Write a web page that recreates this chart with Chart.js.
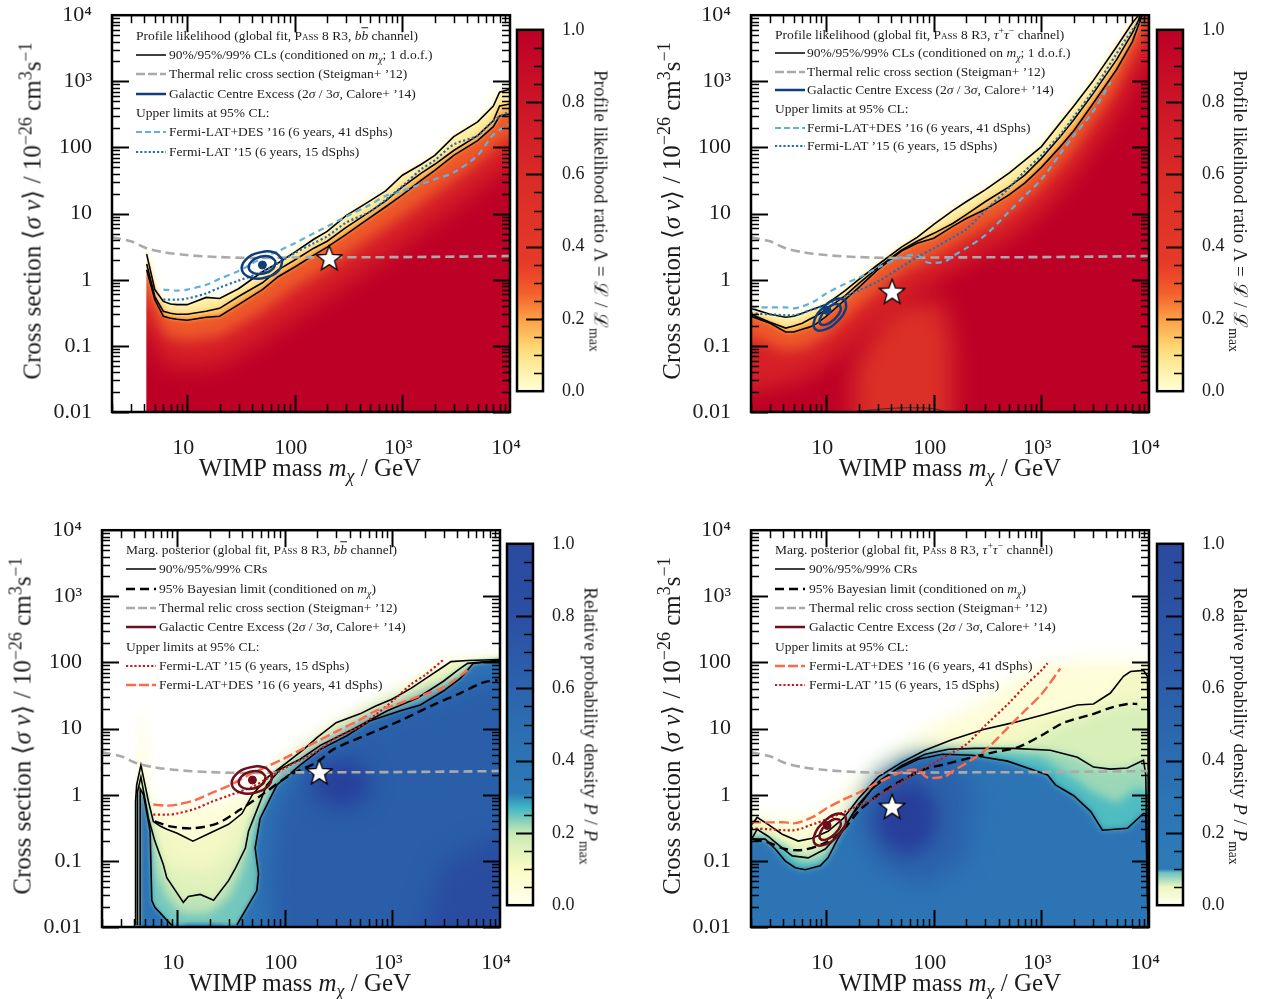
<!DOCTYPE html>
<html>
<head>
<meta charset="utf-8">
<title>WIMP cross section</title>
<script src="https://cdn.jsdelivr.net/npm/chart.js@4"></script>
<style>
html, body { margin: 0; background: #fff; width: 1265px; height: 999px; overflow: hidden; }
canvas { position: absolute; }
.txt { position: absolute; white-space: nowrap; font-family: "Liberation Serif", serif; color: #1c1c1c; line-height: 1; }
.txt sup, .txt sub { line-height: 0; font-size: 72%; }
.sc { font-variant: small-caps; }
</style>
</head>
<body>
<script>
// axis ticks
const xTickValues = [10, 100, 1000, 10000];
const xTickLabels = ['10', '100', '10³', '10⁴'];
const yTickValues = [10000, 1000, 100, 10, 1, 0.1, 0.01];
const yTickLabels = ['10⁴', '10³', '100', '10', '1', '0.1', '0.01'];

// profile likelihood contours, b bbar channel
const massBb = [4.2,5,6,7,8,10,15,20,30,50,70,100,150,200,300,500,700,1000,1500,2000,3000,5000,7000,8000,10000];
const bbOuter = [2.44,.71,.47,.43,.42,.42,.54,.52,.73,1.32,1.79,2.62,4.09,5.39,9.33,15.6,22,38,55.7,76,146,244,424,685,760];
const bbMid = [1.73,.557,.333,.311,.30,.30,.333,.369,.557,.90,1.41,1.99,3.0,3.82,6.18,10.7,15.6,25.3,41,55.7,90,151,253,424,454];
const bbLow = [1.41,.50,.28,.262,.253,.244,.271,.28,.42,.71,1.11,1.56,2.36,3.11,4.86,8.7,12.7,19.2,32,45,76,127,206,300,321];
const bbShadeMass = [4.2,6,10,20,50,100,200,500,1000,2000,5000,10000];
const bbDeep = [.6,.14,.12,.14,.33,.75,1.5,4.2,9,20,60,150];
const bbCore = [.18,.05,.045,.05,.12,.26,.55,1.5,3.2,7.5,22,55];

// profile likelihood contours, tau tau channel
const massTau = [2,3,4.2,5,6,7,8,10,15,20,30,50,70,100,150,200,300,500,700,1000,1500,2000,3000,5000,7000,8000,10000];
const tauOuter = [.369,.30,.271,.28,.311,.344,.369,.424,.685,1,1.67,3.11,4.38,6.85,11.1,15.1,22.8,41,64,103,236,424,1000,3330,7600,10000,30000];
const tauMid = [.30,.228,.186,.199,.22,.253,.28,.357,.577,.871,1.51,2.8,3.82,5.03,7.09,9.66,15.1,25.3,38.2,68.5,146,262,640,2130,5390,8400,25000];
const tauLow = [.28,.22,.162,.162,.179,.192,.213,.28,.50,.76,1.41,2.71,3.57,4.24,6.4,8.42,11.5,19.2,29,50,103,179,454,1510,3950,7100,20000];
const tauShadeMass = [2,4,6,10,20,50,100,200,500,1000,2000,5000,10000];
const tauDeep = [.14,.085,.09,.14,.38,1.3,2.2,4.3,10,26,90,750,8000];
const tauCoreMass = [2,6,10,20,50,100,200,500,1000,2000,5000,10000];
const tauCore = [.02,.03,.05,.12,.45,.9,1.8,4,10,35,300,2500];
const tauPlumeMass = [18,18,40,120,150,150];
const tauPlume = [.003,.05,.4,.5,.1,.003];
const tauIslandMass = [20,35,60,100,125];
const tauIsland = [.0102,.0112,.0116,.0112,.0102];

// marginalised posterior contours, b bbar channel
const postBbAMass = [4.1,4.1,4.2,4.6,5.41,6,7,8,10,14,20,30,40,50,70,100,150,200,300,500,700,1000,1500,2000,3000,3500,5000,10000];
const postBbA = [.0107,.787,1.41,2.8,.787,.395,.333,.30,.262,.199,.262,.357,.52,1,1.86,2.9,4.86,7.34,12.3,16.7,22,28,41,56,87,103,107,111];
const postBbBMass = [4.27,4.27,4.6,5.41,6.2,7.4,8,11.4,12.7,16.4,21.8,30,34.6,43,46,68,91,139,214,407,897,1710,2980,4030,4990,10000];
const postBbB = [.0107,1.1,1.86,.438,.199,.09,.0557,.0236,.029,.0311,.0253,.0502,.076,.156,.28,1.41,2.44,3.44,5.57,9.33,18.6,29,52,76,97,107];
const postBbCLeftMass = [4.53,4.53,4.86,5.6,5.8,6.2,8,8.9];
const postBbCLeft = [.0107,1.23,1,.28,.0253,.0199,.0127,.0107];
const postBbCRightMass = [35.9,37.2,55,57,53,59,84.6,139,214,381,624,1190,1820,2980,4300,5660,10000];
const postBbCRight = [.0107,.0119,.0356,.064,.156,.438,1.41,2.8,4.86,7.87,13.2,18.6,22.8,37,58,97,107];
const bayesBbMass = [6.2,8.6,14,23.6,38.6,63,112,200,283,585,1186,2400,4300,7030,9500];
const bayesBb = [.395,.333,.311,.369,.597,1.03,1.99,3.11,4.86,8.13,13.2,22.8,34.5,50,54];
const bbHaloMass = [4.1,4.4,4.9,5.3,6,10,20,40,60,100,200,500,1000,2000,3000,10000];
const bbHalo = [1.5,14,14,1.5,.55,.6,.7,1,1.7,3.6,9,21,36,70,105,115];
const bbLightMass = [5.2,6.2,7.5,9,14,22,30,37,45,60,100,1000,10000];
const bbLight = [.7,.2,.11,.08,.07,.075,.12,.2,.4,1.3,2.9,29,108];
const bbTealMass = [4.4,4.4,5.4,6.5,8,11,20,30,38,45,50,90,400,2000,10000];
const bbTeal = [.005,1.4,.3,.06,.028,.016,.016,.028,.06,.15,.35,2.2,8.5,32,100];
const bbBlue1Mass = [80,70,80,110,170,300,600,1500,3000,6000,12000];
const bbBlue1 = [.003,.05,.5,1.4,3.2,6,12,22,32,50,60];
const bbBlue2Mass = [170,240,450,650,500,250];
const bbBlue2 = [1.5,3,3.2,1.6,.7,.65];
const bbBlue3Mass = [1500,3000,15000,15000];
const bbBlue3 = [.003,.1,.3,.003];

// marginalised posterior contours, tau tau channel
const postTauAMass = [2.05,2.28,2.88,3.9,5.5,7.4,10.4,14.4,19.9,30.5,50.9,83,149,289,549,1045,2160,3050,4380,5790,6730,8890,9680,9800,9900];
const postTauA = [.357,.454,.357,.253,.199,.22,.28,.438,.871,1.86,3.11,4.7,6.85,9.66,12.3,16.2,22.8,23.6,34.5,61.8,73,76,61.8,15.6,.0107];
const postTauBMass = [2.05,2.28,2.88,3.9,4.83,6.8,9.8,12.1,16,19.9,30.5,50.9,83,137,243,549,1210,2160,3050,4380,6310,8890,9330,9800];
const postTauB = [.22,.30,.236,.156,.119,.111,.151,.22,.395,.71,1.56,2.8,4.09,4.86,5.03,5.03,4.7,3.69,2.62,2.44,2.53,3.33,1.99,.0107];
const postTauCMass = [2.05,2.71,3.36,4.15,5.15,6.38,8.8,10.4,12.9,17.5,26.8,43.9,71.7,120,228,484,790,1140,1350,2000,2880,3690,6310,8890,9330,9800];
const postTauC = [.213,.213,.151,.1,.0787,.0734,.0842,.111,.22,.50,1.23,2.36,3.44,4.09,3.95,3.22,2.44,1.99,1.41,.966,.557,.29,.311,.52,.52,.0107];
const bayesTauMass = [2.08,3,4.15,6,9.2,14,19.9,30.5,50.9,83,128,228,358,600,1000,1610,2880,4380,6310,7780];
const bayesTau = [.213,.186,.151,.146,.179,.28,.557,1,1.67,2.44,2.9,3.69,4.38,5.2,7.87,12.3,16.2,20.6,23.6,23.6];
const tauHaloMass = [2,5,10,20,50,100,300,500,1000,2000,10000];
const tauHalo = [.5,.42,.55,1.8,5.5,11,28,50,95,105,105];
const tauTealMass = [2,3.9,6,10,20,50,100,300,1000,2000,3000,5000,8000,10000];
const tauTeal = [.21,.17,.09,.1,.5,2.9,4.3,4.6,3.7,1.8,1.1,.75,1.3,1];
const tauBlue1Mass = [18,30,60,150,250,200,80,30];
const tauBlue1 = [.4,2,3.8,3.8,1,.1,.04,.08];
const tauBlue2Mass = [28,40,70,110,100,55,32];
const tauBlue2 = [.5,1.3,1.6,.7,.2,.11,.2];

// common curves
const thermalMass = [2,3,4.2,6,10,20,50,100,1000,10000];
const thermal = [4.38,3.82,3.0,2.62,2.36,2.2,2.13,2.17,2.2,2.28];
const desBbMass = [6,8,10,15,20,30,50,70,100,150,200,300,500,700,1000,1500,2000,3000,5000,7000,10000];
const desBb = [.71,.685,.71,.84,1.03,1.36,2.13,2.71,3.57,5.03,6.4,9,13.6,18.6,22,28,33,42,76,156,228];
const latBbMass = [6,8,10,15,20,30,50,70,100,150,200,300,500,700,1000,1500,2000,3000,5000,7000,10000];
const latBb = [.50,.50,.52,.62,.76,.97,1.32,1.79,2.53,3.57,4.54,7.3,10.7,16.2,26,47,64,111,151,253,356];
const desTauMass = [2,3,4.2,5,6,7,8,10,15,20,30,50,70,85,100,130,150,200,300,500,700,1000,1500,2000,3000,4400];
const desTau = [.382,.382,.382,.369,.395,.438,.486,.62,.871,1.07,1.51,2.2,2.36,1.86,1.79,1.92,2.28,3.0,4.7,10.7,18.6,33,81,151,344,967];
const latTauMass = [2,3,4.2,5,6,7,8,10,15,20,30,50,70,100,150,200,300,500,700,1000,1140,1500,2000,3000,5000,7000,10000];
const latTau = [.311,.30,.29,.29,.311,.344,.369,.424,.557,.685,.933,1.56,2.2,3.0,4.38,5.77,11.1,24.4,43.8,76,97,156,292,708,2630,5990,11000];

// galactic centre excess regions
const gceBbOuterMass = [77,71.4,53.7,38.7,32.3,34.9,46.4,64.4,77];
const gceBbOuter = [2.01,1.40,1.08,1.08,1.39,1.99,2.57,2.59,2.01];
const gceBbInnerMass = [66.5,63.2,52.4,42.2,37.4,39.4,47.6,59,66.5];
const gceBbInner = [1.89,1.49,1.25,1.25,1.48,1.87,2.22,2.23,1.89];
const gceTauOuterMass = [15,15.2,12.7,9.7,7.9,7.8,9.4,12.3,15];
const gceTauOuter = [.50,.362,.235,.176,.18,.248,.383,.511,.50];
const gceTauInnerMass = [13.4,13.6,12,10.1,8.8,8.8,9.9,11.8,13.4];
const gceTauInner = [.42,.34,.255,.211,.215,.265,.352,.426,.42];
const gceBbBest = [50, 1.67];
const gceTauBest = [10.2, .344];
const starBb = [209, 2.13];
const starTau = [41, .662];

// colour bars
const barTicks = [0, 0.2, 0.4, 0.6, 0.8, 1];
const redStops = [0, .06, .12, .2, .27, .35, .6, 1];
const redColors = ['#ffffd4', '#fff0a8', '#fed976', '#fd9f45', '#f4602c', '#e63b28', '#d92a28', '#bd0026'];
const blueStops = [0, .1, .2, .27, .31, .5, .8, 1];
const blueColors = ['#fffff0', '#fbfcc4', '#c7e9b4', '#41b6c4', '#2d79b6', '#2c6db1', '#2b4fa3', '#2a4a9f'];
const blue2Stops = [0, .05, .09, .1, .3, .7, 1];
const blue2Colors = ['#fffff0', '#eff6c0', '#6cc3bf', '#2e7ab7', '#2c74b4', '#2b57a6', '#2a4a9f'];

const NAVY = '#0f3d7d', WINE = '#6e0d1e', GREY = '#aaaaaa';
const SKY = '#62b0dc', BLUE = '#1f6fb8', CORAL = '#fb6a4a', RED = '#cb181d';
const FONT = '"Liberation Serif", serif';

function zip(xs, ys) { return xs.map((x, i) => ({x: x, y: ys[i]})); }
function below(xs, ys) {
    const last = xs[xs.length - 1], lastY = ys[ys.length - 1];
    return [{x: xs[0] / 3, y: ys[0]}].concat(zip(xs, ys),
        [{x: last * 3, y: lastY}, {x: last * 3, y: 1e-3}, {x: xs[0] / 3, y: 1e-3}]);
}
function heat(pts, color, blur) {
    return {data: pts, fill: 'shape', backgroundColor: color, borderWidth: 0, pointRadius: 0, blur: blur || 0};
}
function curve(xs, ys, color, width, dash, tension) {
    return {data: zip(xs, ys), borderColor: color, borderWidth: width, borderDash: dash || [],
        pointRadius: 0, fill: false, tension: tension || 0, blur: 0};
}
function mask(m) {
    return heat([{x: 1, y: 1e5}, {x: m, y: 1e5}, {x: m, y: 1e-3}, {x: 1, y: 1e-3}], '#ffffff', 0);
}
function marker(p, style, radius, color) {
    return {data: [{x: p[0], y: p[1]}], showLine: false, pointStyle: style, pointRadius: radius,
        backgroundColor: color, borderColor: color, blur: 0};
}

const starImage = document.createElement('canvas');
starImage.width = 28; starImage.height = 28;
(function () {
    const c = starImage.getContext('2d');
    c.beginPath();
    for (let i = 0; i < 10; i++) {
        const r = i % 2 ? 4.8 : 11.5, a = -Math.PI / 2 + i * Math.PI / 5;
        c.lineTo(14 + r * Math.cos(a), 15 + r * Math.sin(a));
    }
    c.closePath();
    c.fillStyle = '#fff'; c.strokeStyle = '#000'; c.lineWidth = 2.6; c.lineJoin = 'miter';
    c.stroke(); c.fill();
})();

// blur for the shaded layers, and the inward ticks of the frame
const shadePlugin = {
    id: 'shade',
    beforeDatasetsDraw(chart) {
        chart.ctx.filter = blurOf(chart.data.datasets[0]);
    },
    afterDatasetDraw(chart, args) {
        chart.ctx.filter = blurOf(chart.data.datasets[args.index + 1]);
    },
    afterDatasetsDraw(chart) {
        chart.ctx.filter = 'none';
        drawFrame(chart);
    }
};
function blurOf(ds) { return ds && ds.blur ? 'blur(' + ds.blur + 'px)' : 'none'; }

function drawFrame(chart) {
    const c = chart.ctx, a = chart.chartArea, xs = chart.scales.x, ys = chart.scales.y;
    c.save();
    c.strokeStyle = '#000';
    const tick = (x1, y1, x2, y2, w) => { c.lineWidth = w; c.beginPath(); c.moveTo(x1, y1); c.lineTo(x2, y2); c.stroke(); };
    [1, 10, 100, 1000].forEach(dec => {
        for (let k = 1; k < 10; k++) {
            const v = dec * k;
            if (v < 2 || v > 10000) continue;
            const px = Math.round(xs.getPixelForValue(v)) + 0.5, len = k === 1 ? 17 : 8, w = k === 1 ? 2 : 1.5;
            tick(px, a.bottom, px, a.bottom - len, w);
            tick(px, a.top, px, a.top + len, w);
        }
    });
    [0.01, 0.1, 1, 10, 100, 1000].forEach(dec => {
        for (let k = 1; k < 10; k++) {
            const py = Math.round(ys.getPixelForValue(dec * k)) + 0.5, len = k === 1 ? 17 : 8, w = k === 1 ? 2 : 1.5;
            tick(a.left, py, a.left + len, py, w);
            tick(a.right, py, a.right - len, py, w);
        }
    });
    c.lineWidth = 2.5;
    c.strokeRect(a.left, a.top, a.right - a.left, a.bottom - a.top);
    c.restore();
}

function makePanel(left, top, datasets) {
    const cv = document.createElement('canvas');
    const yw = 100, pad = 20;
    cv.width = yw + 398 + 30; cv.height = pad + 402 + 50;
    cv.style.left = (left - yw) + 'px';
    cv.style.top = (top - pad) + 'px';
    document.body.appendChild(cv);
    datasets.forEach((d, i) => { d.order = datasets.length - i; });
    new Chart(cv, {
        type: 'line',
        data: {datasets: datasets},
        plugins: [shadePlugin],
        options: {
            responsive: false, animation: false, devicePixelRatio: 1,
            layout: {padding: {top: pad, right: 30, left: 0, bottom: 0}},
            plugins: {legend: {display: false}, tooltip: {enabled: false}},
            scales: {
                x: {
                    type: 'logarithmic', min: 2, max: 10000,
                    grid: {display: false}, border: {display: false},
                    afterBuildTicks: s => { s.ticks = xTickValues.map(v => ({value: v})); },
                    afterFit: s => { s.height = 50; },
                    ticks: {autoSkip: false, maxRotation: 0, labelOffset: -4, padding: 15, color: '#1c1c1c',
                        font: {family: FONT, size: 22}, callback: (v, i) => xTickLabels[i]}
                },
                y: {
                    type: 'logarithmic', min: 0.01, max: 10000,
                    grid: {display: false}, border: {display: false},
                    afterBuildTicks: s => { s.ticks = yTickValues.map(v => ({value: v})); },
                    afterFit: s => { s.width = yw; },
                    ticks: {autoSkip: false, padding: 12, color: '#1c1c1c',
                        font: {family: FONT, size: 22}, callback: (v, i) => yTickLabels[i]}
                }
            }
        }
    });
}

function makeBar(left, top, stops, colors) {
    const cv = document.createElement('canvas');
    cv.width = 90; cv.height = 375 + 30;
    cv.style.left = (left - 4) + 'px';
    cv.style.top = (top - 15) + 'px';
    document.body.appendChild(cv);
    new Chart(cv, {
        type: 'bar',
        data: {labels: [''], datasets: [{
            data: [[0, 1]], barPercentage: 1, categoryPercentage: 1,
            backgroundColor: ctx => {
                const a = ctx.chart.chartArea;
                if (!a) return '#fff';
                const g = ctx.chart.ctx.createLinearGradient(0, a.bottom, 0, a.top);
                stops.forEach((s, i) => g.addColorStop(s, colors[i]));
                return g;
            }
        }]},
        plugins: [{
            id: 'barFrame',
            afterDatasetsDraw(chart) {
                const c = chart.ctx, a = chart.chartArea, ys = chart.scales.y;
                c.save();
                c.strokeStyle = '#000';
                for (let k = 1; k < 20; k++) {
                    const py = Math.round(ys.getPixelForValue(k / 20)) + 0.5, big = k % 4 === 0;
                    c.lineWidth = big ? 2 : 1.5;
                    c.beginPath(); c.moveTo(a.right, py); c.lineTo(a.right - (big ? 17 : 9), py); c.stroke();
                }
                c.lineWidth = 2.5;
                c.strokeRect(a.left, a.top, a.right - a.left, a.bottom - a.top);
                c.restore();
            }
        }],
        options: {
            responsive: false, animation: false, devicePixelRatio: 1,
            layout: {padding: {top: 15, bottom: 15, left: 4, right: 0}},
            plugins: {legend: {display: false}, tooltip: {enabled: false}},
            scales: {
                x: {display: false},
                y: {
                    position: 'right', min: 0, max: 1,
                    grid: {display: false}, border: {display: false},
                    afterBuildTicks: s => { s.ticks = barTicks.map(v => ({value: v})); },
                    afterFit: s => { s.width = 60; },
                    ticks: {padding: 11, color: '#1c1c1c', font: {family: FONT, size: 18},
                        callback: v => v.toFixed(1)}
                }
            }
        }
    });
}

function addText(html, x, y, size, rot, center) {
    const d = document.createElement('div');
    d.className = 'txt';
    d.innerHTML = html;
    d.style.left = x + 'px';
    d.style.top = y + 'px';
    d.style.fontSize = size + 'px';
    d.style.transform = center ? 'translate(-50%,-50%)' + (rot ? ' rotate(' + rot + 'deg)' : '') : 'translateY(-50%)';
    document.body.appendChild(d);
}
function addHandle(x, y, color, width, dash) {
    const s = document.createElementNS('http://www.w3.org/2000/svg', 'svg');
    s.setAttribute('width', 30); s.setAttribute('height', 6);
    s.style.cssText = 'position:absolute;left:' + x + 'px;top:' + (y - 3) + 'px';
    const l = document.createElementNS('http://www.w3.org/2000/svg', 'line');
    l.setAttribute('x1', 0); l.setAttribute('x2', 30); l.setAttribute('y1', 3); l.setAttribute('y2', 3);
    l.setAttribute('stroke', color); l.setAttribute('stroke-width', width);
    if (dash) l.setAttribute('stroke-dasharray', dash);
    s.appendChild(l);
    document.body.appendChild(s);
}
function legend(x, textX, rows, size) {
    rows.forEach(r => {
        if (r.color) addHandle(x, r.y, r.color, r.width, r.dash);
        addText(r.text, r.color ? textX : x, r.y, size);
    });
}

const MCHI = '<i>m<sub>χ</sub></i>';
const BB = '<i>b</i><i style="text-decoration:overline">b</i>';
const TT = '<i>τ</i><sup>+</sup><i>τ</i><sup>−</sup>';
const PASS = '<span class="sc">Pass</span> 8 R3';
const YLABEL = 'Cross section ⟨<i>σ v</i>⟩ / 10<sup>−26</sup> cm<sup>3</sup>s<sup>−1</sup>';
const XLABEL = 'WIMP mass ' + MCHI + ' / GeV';
const THERMAL = 'Thermal relic cross section (Steigman+ ’12)';
const GCE = 'Galactic Centre Excess (2<i>σ</i> / 3<i>σ</i>, Calore+ ’14)';
const DES = 'Fermi-LAT+DES ’16 (6 years, 41 dSphs)';
const LAT = 'Fermi-LAT ’15 (6 years, 15 dSphs)';
const UPPER = 'Upper limits at 95% CL:';
const CL = '90%/95%/99% CLs (conditioned on ' + MCHI + '; 1 d.o.f.)';
const BAYES = '95% Bayesian limit (conditioned on ' + MCHI + ')';
const RATIO = 'Profile likelihood ratio Λ = ℒ / ℒ<sub>max</sub>';
const DENSITY = 'Relative probability density <i>P</i> / <i>P</i><sub>max</sub>';

function commonTop(color, best, outerM, outerS, innerM, innerS, star) {
    return [
        curve(outerM, outerS, color, 2.5, [], .45),
        curve(innerM, innerS, color, 2.5, [], .45),
        marker(best, 'circle', 4, color),
        marker(star, starImage, 10, '#fff')
    ];
}

// top left: profile likelihood, b bbar
makePanel(112, 10, [
    heat(below(massBb, bbOuter), '#fffbd2', 6),
    heat(below(massBb, bbOuter), '#ffeda0', 2),
    heat(below(massBb, bbMid), '#fdb44c', 3),
    heat(below(massBb, bbLow), '#ee5a2a', 2),
    heat(below(bbShadeMass, bbDeep), '#d62027', 7),
    heat(below(bbShadeMass, bbCore), '#bd0026', 11),
    mask(4.17),
    curve(massBb, bbOuter, '#000', 1.6),
    curve(massBb, bbMid, '#000', 1.6),
    curve(massBb, bbLow, '#000', 1.6),
    curve(thermalMass, thermal, GREY, 2.6, [9, 5], .3),
    curve(desBbMass, desBb, SKY, 2.2, [6, 4.5], .3),
    curve(latBbMass, latBb, BLUE, 2.2, [2.2, 2.4], .3)
].concat(commonTop(NAVY, gceBbBest, gceBbOuterMass, gceBbOuter, gceBbInnerMass, gceBbInner, starBb)));
makeBar(517, 23, redStops, redColors);

// top right: profile likelihood, tau tau
makePanel(751, 10, [
    heat(below(massTau, tauOuter), '#fffbd2', 6),
    heat(below(massTau, tauOuter), '#ffeda0', 2),
    heat(below(massTau, tauMid), '#fdb44c', 3),
    heat(below(massTau, tauLow), '#ee5a2a', 2),
    heat(below(tauShadeMass, tauDeep), '#d62027', 7),
    heat(below(tauCoreMass, tauCore), '#bd0026', 10),
    heat(zip(tauPlumeMass, tauPlume), '#db3027', 12),
    curve(massTau, tauOuter, '#000', 1.6),
    curve(massTau, tauMid, '#000', 1.6),
    curve(massTau, tauLow, '#000', 1.6),
    curve(tauIslandMass, tauIsland, '#333', 1.2, [], .4),
    curve(thermalMass, thermal, GREY, 2.6, [9, 5], .3),
    curve(desTauMass, desTau, SKY, 2.2, [6, 4.5], .3),
    curve(latTauMass, latTau, BLUE, 2.2, [2.2, 2.4], .3)
].concat(commonTop(NAVY, gceTauBest, gceTauOuterMass, gceTauOuter, gceTauInnerMass, gceTauInner, starTau)));
makeBar(1157, 23, redStops, redColors);

// bottom left: posterior, b bbar
makePanel(102, 525, [
    heat(below(bbHaloMass, bbHalo), '#fdfdd8', 7),
    heat(below(postBbAMass, postBbA), '#f3f8c4', 2),
    heat(below(bbLightMass, bbLight), '#dff1bb', 8),
    heat(below(postBbBMass, postBbB), '#bde4b6', 3),
    heat(below(bbTealMass, bbTeal), '#73c7bd', 5),
    heat(below(postBbCLeftMass, postBbCLeft), '#2d74b5', 2),
    heat(below(postBbCRightMass, postBbCRight), '#2d74b5', 2),
    heat(below(bbBlue1Mass, bbBlue1), '#2a5ea9', 11),
    heat(zip(bbBlue2Mass, bbBlue2), '#273f9b', 11),
    heat(zip(bbBlue3Mass, bbBlue3), '#294ca0', 12),
    mask(4.08),
    curve(postBbAMass, postBbA, '#000', 1.6),
    curve(postBbBMass, postBbB, '#000', 1.6),
    curve(postBbCLeftMass, postBbCLeft, '#000', 1.6),
    curve(postBbCRightMass, postBbCRight, '#000', 1.6),
    curve(bayesBbMass, bayesBb, '#000', 2.4, [9, 5], .3),
    curve(thermalMass, thermal, GREY, 2.6, [9, 5], .3),
    curve(latBbMass.slice(0, 18), latBb.slice(0, 18), RED, 2.2, [2.2, 2.4], .3),
    curve(desBbMass.slice(0, 19), desBb.slice(0, 19), CORAL, 2.4, [10, 4], .3)
].concat(commonTop(WINE, gceBbBest, gceBbOuterMass, gceBbOuter, gceBbInnerMass, gceBbInner, [209, 2.2])));
makeBar(507, 537, blueStops, blueColors);

// bottom right: posterior, tau tau
makePanel(751, 525, [
    heat(below(tauHaloMass, tauHalo), '#fdfdd8', 8),
    heat(below(postTauAMass.slice(0, -2), postTauA.slice(0, -2)), '#f3f8c4', 3),
    heat(below(bayesTauMass, bayesTau), '#d8efba', 6),
    heat(below(postTauBMass.slice(0, -1), postTauB.slice(0, -1)), '#9ad8b8', 4),
    heat(below(tauTealMass, tauTeal), '#4fbcc1', 5),
    heat(below(postTauCMass.slice(0, -1), postTauC.slice(0, -1)), '#2d74b5', 3),
    heat(zip(tauBlue1Mass, tauBlue1), '#2b62ab', 11),
    heat(zip(tauBlue2Mass, tauBlue2), '#283f9a', 9),
    curve(postTauAMass, postTauA, '#000', 1.6),
    curve(postTauBMass, postTauB, '#000', 1.6),
    curve(postTauCMass, postTauC, '#000', 1.6),
    curve(bayesTauMass, bayesTau, '#000', 2.4, [9, 5], .3),
    curve(thermalMass, thermal, GREY, 2.6, [9, 5], .3),
    curve(latTauMass.slice(0, 21), latTau.slice(0, 21), RED, 2.2, [2.2, 2.4], .3),
    curve(desTauMass.slice(0, 23), desTau.slice(0, 23), CORAL, 2.4, [10, 4], .3)
].concat(commonTop(WINE, gceTauBest, gceTauOuterMass, gceTauOuter, gceTauInnerMass, gceTauInner, starTau)));
makeBar(1157, 537, blue2Stops, blue2Colors);

// axis titles
[[32, 211], [671, 211], [22, 726], [671, 726]].forEach(p => addText(YLABEL, p[0], p[1], 25, -90, true));
[[310, 467], [950, 467], [300, 982], [950, 982]].forEach(p => addText(XLABEL, p[0], p[1], 25, 0, true));
addText(RATIO, 601, 211, 19, 90, true);
addText(RATIO, 1240, 211, 19, 90, true);
addText(DENSITY, 591, 726, 19, 90, true);
addText(DENSITY, 1240, 726, 19, 90, true);

// legends
legend(136, 169, [
    {y: 36, text: 'Profile likelihood (global fit, ' + PASS + ', ' + BB + ' channel)'},
    {y: 55, text: CL, color: '#000', width: 1.5},
    {y: 74, text: THERMAL, color: GREY, width: 2.5, dash: '9 3'},
    {y: 94, text: GCE, color: NAVY, width: 2.5},
    {y: 113, text: UPPER},
    {y: 132, text: DES, color: SKY, width: 2.2, dash: '6 3'},
    {y: 152, text: LAT, color: BLUE, width: 2.2, dash: '2.2 2'}
], 13.5);
legend(775, 807, [
    {y: 35, text: 'Profile likelihood (global fit, ' + PASS + ', ' + TT + ' channel)'},
    {y: 53, text: CL, color: '#000', width: 1.5},
    {y: 72, text: THERMAL, color: GREY, width: 2.5, dash: '9 3'},
    {y: 90, text: GCE, color: NAVY, width: 2.5},
    {y: 109, text: UPPER},
    {y: 128, text: DES, color: SKY, width: 2.2, dash: '6 3'},
    {y: 146, text: LAT, color: BLUE, width: 2.2, dash: '2.2 2'}
], 13.5);
legend(126, 159, [
    {y: 550, text: 'Marg. posterior (global fit, ' + PASS + ', ' + BB + ' channel)'},
    {y: 569, text: '90%/95%/99% CRs', color: '#000', width: 1.5},
    {y: 589, text: BAYES, color: '#000', width: 2.5, dash: '9 5'},
    {y: 608, text: THERMAL, color: GREY, width: 2.5, dash: '9 3'},
    {y: 627, text: GCE, color: WINE, width: 2.5},
    {y: 647, text: UPPER},
    {y: 666, text: LAT, color: RED, width: 2.2, dash: '2.2 2'},
    {y: 685, text: DES, color: CORAL, width: 2.4, dash: '10 3'}
], 13.5);
legend(775, 809, [
    {y: 550, text: 'Marg. posterior (global fit, ' + PASS + ', ' + TT + ' channel)'},
    {y: 569, text: '90%/95%/99% CRs', color: '#000', width: 1.5},
    {y: 589, text: BAYES, color: '#000', width: 2.5, dash: '9 5'},
    {y: 608, text: THERMAL, color: GREY, width: 2.5, dash: '9 3'},
    {y: 627, text: GCE, color: WINE, width: 2.5},
    {y: 647, text: UPPER},
    {y: 666, text: DES, color: CORAL, width: 2.4, dash: '10 3'},
    {y: 685, text: LAT, color: RED, width: 2.2, dash: '2.2 2'}
], 13.5);
</script>
</body>
</html>
